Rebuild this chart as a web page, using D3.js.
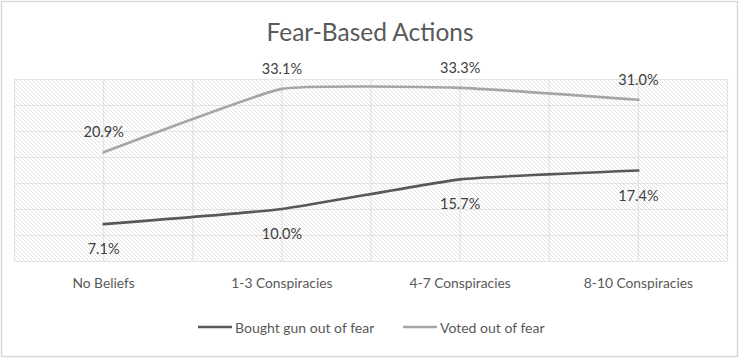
<!DOCTYPE html>
<html>
<head>
<meta charset="utf-8">
<script src="https://cdn.jsdelivr.net/npm/d3@7"></script>
<style>
  html, body { margin: 0; padding: 0; background: #fff; }
  svg { display: block; }
  text { font-family: Lato, "Open Sans", sans-serif; }
</style>
</head>
<body>
<svg id="chart" width="740" height="359"></svg>
<script>
const categories = ["No Beliefs", "1-3 Conspiracies", "4-7 Conspiracies", "8-10 Conspiracies"];
const boughtGun = [7.1, 10.0, 15.7, 17.4];
const votedFear = [20.9, 33.1, 33.3, 31.0];
const seriesNames = ["Bought gun out of fear", "Voted out of fear"];
const yTicks = [0, 5, 10, 15, 20, 25, 30, 35];
const titleText = "Fear-Based Actions";

const W = 740, H = 359;
const plot = { left: 14.5, right: 727.5, top: 79, bottom: 261 };

const svg = d3.select("#chart");

// outer border
svg.append("rect")
  .attr("x", 1.5).attr("y", 1.5).attr("width", W - 4).attr("height", H - 4)
  .attr("fill", "#fff").attr("stroke", "#d9d9d9").attr("stroke-width", 1.5);

// hatch pattern
const defs = svg.append("defs");
const pat = defs.append("pattern")
  .attr("id", "hatch").attr("patternUnits", "userSpaceOnUse")
  .attr("width", 4).attr("height", 4);
pat.append("rect").attr("width", 4).attr("height", 4).attr("fill", "#fff");
pat.append("path")
  .attr("d", "M-1,-1 L5,5 M-1,3 L1,5 M3,-1 L5,1")
  .attr("stroke", "#dcdcdc").attr("stroke-width", 0.8);

const x = d3.scaleBand().domain(categories).range([plot.left, plot.right]).padding(0);
const y = d3.scaleLinear().domain([0, 35]).range([plot.bottom, plot.top]);
const cx = d => x(d) + x.bandwidth() / 2;

svg.append("rect")
  .attr("x", plot.left).attr("y", plot.top)
  .attr("width", plot.right - plot.left).attr("height", plot.bottom - plot.top)
  .attr("fill", "url(#hatch)");

// horizontal gridlines
const yAxis = d3.axisLeft(y).tickValues(yTicks).tickSize(-(plot.right - plot.left)).tickFormat("");
const gy = svg.append("g").attr("transform", `translate(${plot.left},0)`).call(yAxis);
gy.select(".domain").remove();
gy.selectAll(".tick line").attr("stroke", "#e3e3e3").attr("stroke-width", 1.2);

// vertical gridlines: band edges and centers
const vLines = [];
categories.forEach(c => { vLines.push(x(c)); vLines.push(cx(c)); });
vLines.push(plot.right);
svg.append("g").selectAll("line").data(vLines).join("line")
  .attr("x1", d => d).attr("x2", d => d)
  .attr("y1", plot.top).attr("y2", plot.bottom)
  .attr("stroke", "#e3e3e3").attr("stroke-width", 1.2);

// category axis labels
const xAxis = d3.axisBottom(x).tickSize(0).tickPadding(0);
const gx = svg.append("g").attr("transform", `translate(0,${plot.bottom})`).call(xAxis);
gx.select(".domain").remove();
gx.selectAll(".tick text")
  .attr("y", 27).attr("dy", 0)
  .attr("font-size", 13.8).attr("fill", "#595959")
  .style("font-family", "Lato, 'Open Sans', sans-serif");

// lines
const line = d3.line().x((d, i) => cx(categories[i])).y(d => y(d)).curve(d3.curveCardinal.tension(0.6));
const series = [
  { name: seriesNames[0], values: boughtGun, color: "#595959", labelDy: 30 },
  { name: seriesNames[1], values: votedFear, color: "#a6a6a6", labelDy: -15 }
];
series.forEach(s => {
  svg.append("path").datum(s.values)
    .attr("d", line).attr("fill", "none")
    .attr("stroke", s.color).attr("stroke-width", 2.6).attr("stroke-linecap", "round");
  svg.append("g").selectAll("text").data(s.values).join("text")
    .attr("x", (d, i) => cx(categories[i]))
    .attr("y", d => y(d) + s.labelDy)
    .attr("text-anchor", "middle")
    .attr("font-size", 14.5).attr("fill", "#404040")
    .text(d => d.toFixed(1) + "%");
});

// title
svg.append("text")
  .attr("x", W / 2).attr("y", 41)
  .attr("text-anchor", "middle")
  .attr("font-size", 24.5).attr("fill", "#595959")
  .text(titleText);

// legend
const legendItems = [
  { name: seriesNames[0], color: "#595959", x: 198 },
  { name: seriesNames[1], color: "#a6a6a6", x: 403 }
];
const lg = svg.append("g");
legendItems.forEach(it => {
  lg.append("line")
    .attr("x1", it.x).attr("x2", it.x + 34)
    .attr("y1", 327).attr("y2", 327)
    .attr("stroke", it.color).attr("stroke-width", 2.6);
  lg.append("text")
    .attr("x", it.x + 37).attr("y", 332.5)
    .attr("font-size", 14).attr("fill", "#595959")
    .text(it.name);
});
</script>
</body>
</html>
